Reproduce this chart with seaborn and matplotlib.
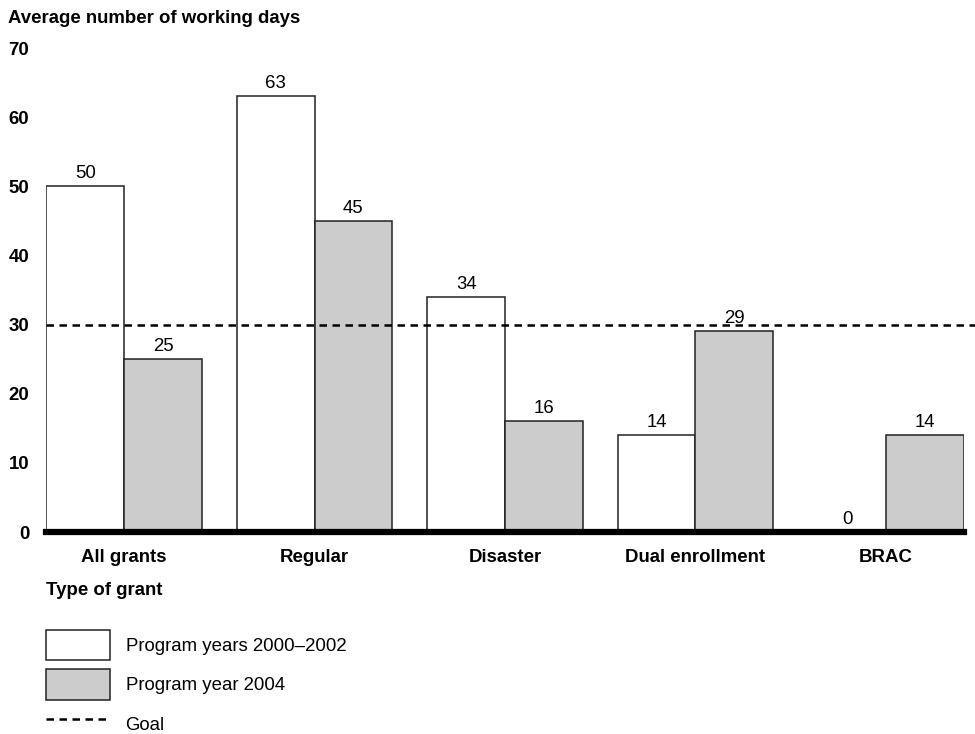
import pandas as pd
import numpy as np
import matplotlib.pyplot as plt
import seaborn as sns
from matplotlib.patches import Patch
from matplotlib.lines import Line2D

# Chart data
grant_types = ['All grants', 'Regular', 'Disaster', 'Dual enrollment', 'BRAC']
series_names = ['Program years 2000\u20132002', 'Program year 2004']
days_2000_2002 = [50, 63, 34, 14, 0]
days_2004 = [25, 45, 16, 29, 14]
goal_days = 30
y_ticks = [0, 10, 20, 30, 40, 50, 60, 70]

sns.set_style('white')
plt.rcParams['font.family'] = ['Liberation Sans', 'DejaVu Sans']
plt.rcParams['text.color'] = 'black'
plt.rcParams['xtick.color'] = 'black'
plt.rcParams['ytick.color'] = 'black'

FS = 13.4

df = pd.DataFrame({
    'grant': grant_types * 2,
    'series': [series_names[0]] * 5 + [series_names[1]] * 5,
    'days': days_2000_2002 + days_2004,
})

fig = plt.figure(figsize=(9.75, 7.34), dpi=100)
ax = fig.add_axes([0.0472, 0.2752, 0.9415, 0.6594])

colors = {series_names[0]: '#ffffff', series_names[1]: '#cccccc'}
sns.barplot(data=df, x='grant', y='days', hue='series', palette=colors,
            width=0.816, edgecolor='#222222', linewidth=1.1, ax=ax,
            legend=False, gap=0)

for cont in ax.containers:
    ax.bar_label(cont, fmt='%d', padding=3, fontsize=FS, color='black')

ax.axhline(goal_days, color='black', linestyle=(0, (3, 2.2)), linewidth=1.8,
           clip_on=False, xmax=1.012, zorder=3)

ax.set_xlim(-0.41, 4.41)
ax.set_ylim(0, 70)
ax.set_yticks(y_ticks)
ax.tick_params(axis='y', length=0, pad=12, labelsize=FS)
ax.tick_params(axis='x', length=0, pad=12, labelsize=FS)
for lbl in ax.get_yticklabels() + ax.get_xticklabels():
    lbl.set_fontweight('bold')
ax.set_xlabel('')
ax.set_ylabel('')

for side in ['top', 'right', 'left']:
    ax.spines[side].set_visible(False)
ax.spines['bottom'].set_linewidth(4.5)
ax.spines['bottom'].set_color('black')

fig.text(0.008, 0.975, 'Average number of working days', fontsize=FS,
         fontweight='bold', va='center', ha='left')
fig.text(0.0472, 0.196, 'Type of grant', fontsize=FS, fontweight='bold',
         va='center', ha='left')

handles = [
    Patch(facecolor='#ffffff', edgecolor='#222222', linewidth=1.1),
    Patch(facecolor='#cccccc', edgecolor='#222222', linewidth=1.1),
    Line2D([0], [0], color='black', linestyle=(0, (3, 2.2)), linewidth=1.8),
]
fig.legend(handles, series_names + ['Goal'], loc='upper left',
           bbox_to_anchor=(0.040, 0.152), frameon=False, fontsize=FS,
           handlelength=3.4, handleheight=2.14, handletextpad=0.85,
           labelspacing=0.48, borderaxespad=0)

fig.savefig('out.png', dpi=100, facecolor='white')
